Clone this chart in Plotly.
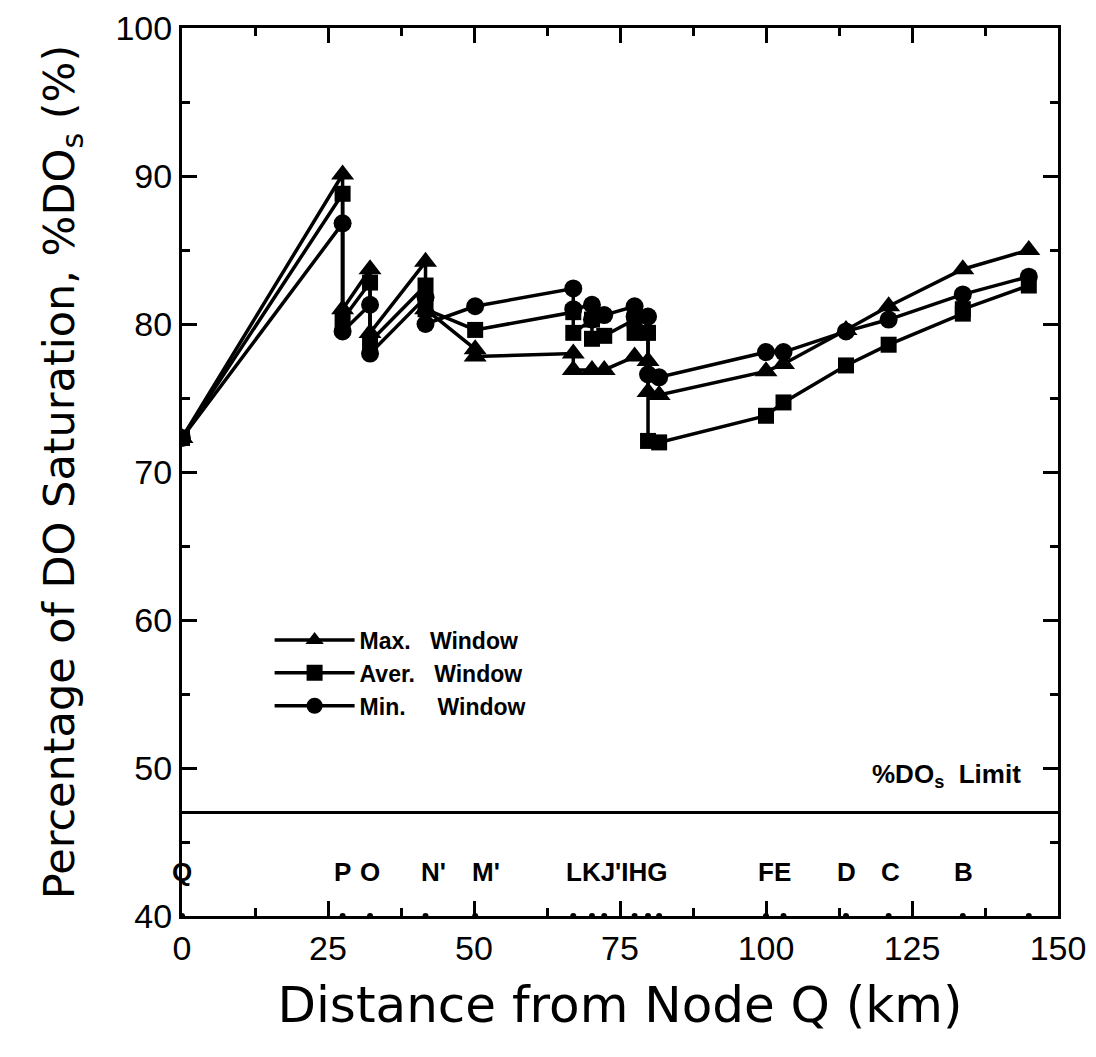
import plotly.graph_objects as go

# Node positions along the river (km from node Q) and their labels
node_x = [0, 27.5, 32.2, 41.7, 50.2, 67.0, 70.2, 72.3, 77.5, 79.8, 81.7,
          100.0, 103.0, 113.7, 121.0, 133.7, 145.0]

# Label groups as drawn under the curves
label_text = ["Q", "P", "O", "N'", "M'", "LKJ'IHG", "FE", "D", "C", "B"]
label_x = [0, 27.5, 32.2, 43.0, 52.0, 74.5, 101.5, 113.7, 121.3, 133.9]
label_y = 43.0

# Max. window (triangles)
max_x = [0, 27.5, 27.5, 32.2, 32.2, 41.7, 41.7, 50.2, 50.2, 67.0, 67.0, 70.2, 72.3,
         77.5, 79.8, 79.8, 81.7, 100.0, 103.0, 113.7, 121.0, 133.7, 145.0]
max_y = [72.3, 90.1, 81.0, 83.7, 79.4, 84.2, 81.0, 78.3, 77.8, 78.0, 76.9, 76.9, 76.9,
         77.8, 77.5, 75.4, 75.2, 76.8, 77.3, 79.6, 81.2, 83.7, 85.0]

# Aver. window (squares)
avg_x = [0, 27.5, 27.5, 32.2, 32.2, 41.7, 41.7, 50.2, 67.0, 67.0, 70.2, 70.2, 72.3,
         77.5, 77.5, 79.8, 79.8, 81.7, 100.0, 103.0, 113.7, 121.0, 133.7, 133.7, 145.0]
avg_y = [72.3, 88.8, 80.3, 82.8, 78.8, 82.6, 81.0, 79.6, 80.8, 79.4, 80.3, 79.0, 79.2,
         80.3, 79.4, 79.4, 72.1, 72.0, 73.8, 74.7, 77.2, 78.6, 80.7, 81.0, 82.6]

# Min. window (circles)
min_x = [0, 27.5, 27.5, 32.2, 32.2, 41.7, 41.7, 50.2, 67.0, 67.0, 70.2, 70.2, 72.3,
         77.5, 77.5, 79.8, 79.8, 81.7, 100.0, 103.0, 113.7, 121.0, 133.7, 145.0]
min_y = [72.3, 86.8, 79.5, 81.3, 78.0, 81.8, 80.0, 81.2, 82.4, 81.0, 81.3, 80.3, 80.6,
         81.2, 80.5, 80.5, 76.6, 76.4, 78.1, 78.1, 79.5, 80.3, 82.0, 83.2]

do_limit = 47.0

series = [
    ("Max.   Window", max_x, max_y, "triangle-up", 20),
    ("Aver.   Window", avg_x, avg_y, "square", 16),
    ("Min.     Window", min_x, min_y, "circle", 18),
]

fig = go.Figure()
for name, xs, ys, sym, sz in series:
    fig.add_trace(go.Scatter(
        x=xs, y=ys, mode="lines+markers", name=name,
        line=dict(color="black", width=3.5),
        marker=dict(symbol=sym, size=sz, color="black"),
    ))

# node dots on the x axis
fig.add_trace(go.Scatter(
    x=node_x, y=[40] * len(node_x), mode="markers", showlegend=False,
    marker=dict(size=6, color="black"), cliponaxis=False,
))

# %DOs limit line
fig.add_hline(y=do_limit, line=dict(color="black", width=3))
fig.add_annotation(x=144, y=49.5, text="%DO<sub>s</sub>  Limit", showarrow=False,
                   xanchor="right", font=dict(family="Liberation Sans", size=26, color="black",
                                              weight="bold"))

for t, xv in zip(label_text, label_x):
    fig.add_annotation(x=xv, y=label_y, text=t, showarrow=False,
                       font=dict(family="Liberation Sans", size=26, color="black", weight="bold"))

axis_common = dict(
    showline=True, linecolor="black", linewidth=3, mirror="allticks",
    ticks="inside", ticklen=15, tickwidth=3, tickcolor="black",
    showgrid=False, zeroline=False, automargin=False, ticklabeloverflow="allow",
    tickfont=dict(family="Liberation Sans", size=34, color="black"),
)

fig.update_xaxes(range=[0, 150], tickvals=[0, 25, 50, 75, 100, 125, 150],
                 minor=dict(dtick=12.5, ticklen=8, tickwidth=3, ticks="inside", tickcolor="black"),
                 title=dict(text="Distance from Node Q (km)", standoff=22,
                            font=dict(family="DejaVu Sans", size=50, color="black")),
                 **axis_common)
fig.update_yaxes(range=[40, 100], dtick=10,
                 minor=dict(dtick=5, ticklen=8, tickwidth=3, ticks="inside", tickcolor="black"),
                 title=dict(text="Percentage of DO Saturation, %DO<sub>s</sub> (%)", standoff=28,
                            font=dict(family="DejaVu Sans", size=43, color="black")),
                 **axis_common)

fig.update_layout(
    width=1088, height=1049,
    margin=dict(l=174, r=38, t=20, b=141),
    paper_bgcolor="white", plot_bgcolor="white",
    showlegend=True,
    legend=dict(x=0.1, y=0.335, xanchor="left", yanchor="top",
                bgcolor="rgba(0,0,0,0)", itemwidth=80, tracegroupgap=0,
                font=dict(family="Liberation Sans", size=23, color="black", weight="bold")),
)

fig.write_html("out.html")
